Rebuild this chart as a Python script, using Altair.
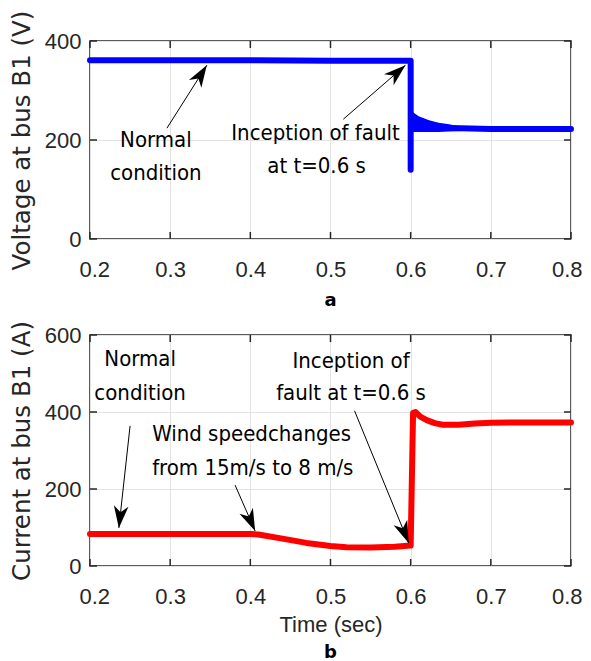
import altair as alt
import pandas as pd

# ---------------- data ----------------
x_ticks = [0.2, 0.3, 0.4, 0.5, 0.6, 0.7, 0.8]
v_ticks = [0, 200, 400]
c_ticks = [0, 200, 400, 600]

# Voltage at bus B1 (top panel)
v_time = [0.2, 0.3, 0.4, 0.5, 0.55, 0.6, 0.6, 0.6, 0.603, 0.62, 0.65, 0.7, 0.8]
v_value = [361, 361, 361, 360, 360, 360, 140, 245, 240, 228, 224, 222, 222]

# ripple envelope right after the fault
r_time = [0.6, 0.601, 0.603, 0.61, 0.623, 0.635, 0.648, 0.665]
r_upper = [250, 258, 256, 248, 240, 235, 232, 226]
r_lower = [216, 216, 216, 216, 216, 216, 217, 218]

# Current at bus B1 (bottom panel)
c_time = [0.2, 0.3, 0.4, 0.41, 0.44, 0.47, 0.5, 0.52, 0.55, 0.58, 0.6, 0.603, 0.606,
          0.612, 0.62, 0.63, 0.64, 0.66, 0.68, 0.7, 0.75, 0.8]
c_value = [83, 83, 83, 82, 71, 60, 52, 49, 48, 50, 53, 398, 400,
           388, 379, 371, 367, 367, 370, 372, 373, 373]

# annotations (text anchors in data units)
top_text = ["Normal", "condition", "Inception of fault", "at t=0.6 s"]
top_text_x = [0.2822, 0.2822, 0.4813, 0.4826]
top_text_y = [186, 119, 200, 133]
top_text_align = ["center", "center", "center", "center"]

bot_text = ["Normal", "condition", "Wind speedchanges", "from 15m/s to 8 m/s",
            "Inception of", "fault at t=0.6 s"]
bot_text_x = [0.2625, 0.2625, 0.2775, 0.2775, 0.5256, 0.5256]
bot_text_y = [519, 431, 325, 236, 514, 431]
bot_text_align = ["center", "center", "left", "left", "center", "center"]

# arrows: tail -> tip (data units), head angle (deg, clockwise from up)
top_arrow_x = [0.296, 0.516]
top_arrow_y = [224, 242]
top_arrow_x2 = [0.3457, 0.5935]
top_arrow_y2 = [351, 351]
top_arrow_angle = [32, 49]

bot_arrow_x = [0.25, 0.381, 0.53]
bot_arrow_y = [364, 210, 403]
bot_arrow_x2 = [0.236, 0.406, 0.5975]
bot_arrow_y2 = [99, 91, 60]
bot_arrow_angle = [186, 156, 158]

# ---------------- style ----------------
W = 481
TICK_FONT = "Liberation Sans, Arial, sans-serif"
ANN_FONT = "DejaVu Sans Condensed, DejaVu Sans, sans-serif"
TITLE_FONT = "DejaVu Sans, sans-serif"
DARK = "#262626"
ARROW_PATH = "M0,0 L0.7,2.1 L0,1.5 L-0.7,2.1 Z"


def panel(line_df, color, y_ticks, y_max, height, y_title, x_title, letter, letter_offset,
          text_df, arrow_df, ripple_df=None):
    xscale = alt.Scale(domain=[0.2, 0.8], nice=False, zero=False)
    yscale = alt.Scale(domain=[0, y_max], nice=False)
    xaxis = alt.Axis(values=x_ticks, format=".1f", grid=True, title=x_title,
                     titleFont=TICK_FONT, titleFontSize=22, titleFontWeight="normal",
                     titlePadding=7, labelFlush=True, labelFlushOffset=11,
                     labelOverlap=False)
    yaxis = alt.Axis(values=y_ticks, format="d", grid=True, title=y_title,
                     labelFlush=False, labelOverlap=False)

    def X(field):
        return alt.X(field, type="quantitative", scale=xscale, axis=xaxis)

    def Y(field):
        return alt.Y(field, type="quantitative", scale=yscale, axis=yaxis)

    layers = []
    if ripple_df is not None:
        layers.append(
            alt.Chart(ripple_df).mark_area(color=color, opacity=1).encode(
                x=X("t"), y=Y("hi"), y2="lo")
        )
    layers.append(
        alt.Chart(line_df).mark_line(color=color, strokeWidth=6, strokeCap="round",
                                     strokeJoin="round").encode(
            x=X("t"), y=Y("val"), order="idx:Q")
    )
    xt = pd.DataFrame({"t": x_ticks})
    yt = pd.DataFrame({"val": y_ticks})
    layers += [
        alt.Chart(xt).mark_rule(color=DARK, strokeWidth=1.5).encode(
            x=X("t"), y=alt.value(height), y2=alt.value(height - 7)),
        alt.Chart(xt).mark_rule(color=DARK, strokeWidth=1.5).encode(
            x=X("t"), y=alt.value(0), y2=alt.value(7)),
        alt.Chart(yt).mark_rule(color=DARK, strokeWidth=1.5).encode(
            y=Y("val"), x=alt.value(0), x2=alt.value(7)),
        alt.Chart(yt).mark_rule(color=DARK, strokeWidth=1.5).encode(
            y=Y("val"), x=alt.value(W), x2=alt.value(W - 7)),
        alt.Chart(arrow_df).mark_rule(color="black", strokeWidth=1).encode(
            x=X("t"), y=Y("val"), x2="t2", y2="val2"),
        alt.Chart(arrow_df).mark_point(shape=ARROW_PATH, filled=True, size=440,
                                       color="black", opacity=1).encode(
            x=X("t2"), y=Y("val2"), angle=alt.Angle("angle:Q", scale=None)),
    ]
    for al in ["center", "left"]:
        sub = text_df[text_df["align"] == al]
        if len(sub):
            layers.append(
                alt.Chart(sub).mark_text(font=ANN_FONT, fontSize=22, color="black",
                                         align=al, baseline="alphabetic").encode(
                    x=X("t"), y=Y("val"), text="label:N")
            )
    return alt.layer(*layers).properties(
        width=W, height=height,
        title=alt.TitleParams(text=letter, orient="bottom", anchor="middle", frame="group",
                              font=TITLE_FONT, fontSize=18, fontWeight="bold",
                              color="black", offset=letter_offset),
    )


top_line = pd.DataFrame({"t": v_time, "val": v_value, "idx": list(range(len(v_time)))})
ripple = pd.DataFrame({"t": r_time, "hi": r_upper, "lo": r_lower})
top_txt = pd.DataFrame({"t": top_text_x, "val": top_text_y, "label": top_text,
                        "align": top_text_align})
top_arr = pd.DataFrame({"t": top_arrow_x, "val": top_arrow_y, "t2": top_arrow_x2,
                        "val2": top_arrow_y2, "angle": top_arrow_angle})

bot_line = pd.DataFrame({"t": c_time, "val": c_value, "idx": list(range(len(c_time)))})
bot_txt = pd.DataFrame({"t": bot_text_x, "val": bot_text_y, "label": bot_text,
                        "align": bot_text_align})
bot_arr = pd.DataFrame({"t": bot_arrow_x, "val": bot_arrow_y, "t2": bot_arrow_x2,
                        "val2": bot_arrow_y2, "angle": bot_arrow_angle})

top = panel(top_line, "#0000ff", v_ticks, 400, 198, "Voltage at bus B1 (V)", None, "a", 12,
            top_txt, top_arr, ripple)
bottom = panel(bot_line, "#ff0000", c_ticks, 600, 231, "Current at bus B1 (A)",
               "Time (sec)", "b", 9, bot_txt, bot_arr)

chart = alt.vconcat(top, bottom, spacing=8).properties(
    padding={"left": 0, "top": 1, "right": 0, "bottom": 0}
).configure_view(
    stroke=DARK, strokeWidth=1.5
).configure_axis(
    domain=False, ticks=False, tickSize=0,
    gridColor="#e3e3e3", gridWidth=1,
    labelFont=TICK_FONT, labelFontSize=22, labelColor=DARK, labelPadding=9,
    titleFont=TITLE_FONT, titleFontSize=24.5, titleFontWeight="normal", titleColor=DARK,
    titlePadding=10,
).configure_axisX(
    labelPadding=20
)

chart.save("out.html", embed_options={"renderer": "svg", "actions": False})
